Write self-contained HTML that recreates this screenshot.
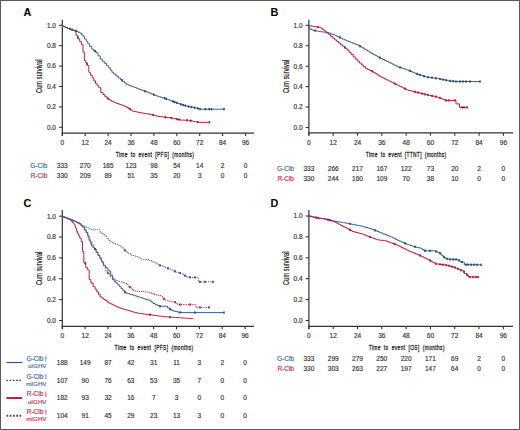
<!DOCTYPE html>
<html><head><meta charset="utf-8"><title>Kaplan-Meier curves</title>
<style>
html,body{margin:0;padding:0;background:#fff;}
body{width:520px;height:430px;position:relative;overflow:hidden;font-family:"Liberation Sans", sans-serif;}
.frame{position:absolute;left:0;top:0;width:518px;height:428px;border:1px solid #5a5a5a;pointer-events:none;}
</style></head><body>
<svg width="520" height="430" viewBox="0 0 520 430" style="display:block;position:absolute;left:0;top:0" font-family='"Liberation Sans", sans-serif'>
<rect x="0" y="0" width="520" height="430" fill="#fff"/>
<text x="23.60" y="16.40" font-size="10.8" text-anchor="start" fill="#000" font-weight="bold">A</text>
<line x1="62.30" y1="19.70" x2="62.30" y2="135.70" stroke="#333333" stroke-width="1.2"/>
<line x1="61.70" y1="133.10" x2="254.00" y2="133.10" stroke="#333333" stroke-width="1.3"/>
<line x1="59.10" y1="127.30" x2="62.30" y2="127.30" stroke="#333333" stroke-width="1.1"/>
<text x="56.00" y="129.65" font-size="6.5" text-anchor="end" fill="#3a3a3a" font-weight="normal" stroke="#3a3a3a" stroke-width="0.18">0.0</text>
<line x1="59.10" y1="106.90" x2="62.30" y2="106.90" stroke="#333333" stroke-width="1.1"/>
<text x="56.00" y="109.25" font-size="6.5" text-anchor="end" fill="#3a3a3a" font-weight="normal" stroke="#3a3a3a" stroke-width="0.18">0.2</text>
<line x1="59.10" y1="86.50" x2="62.30" y2="86.50" stroke="#333333" stroke-width="1.1"/>
<text x="56.00" y="88.85" font-size="6.5" text-anchor="end" fill="#3a3a3a" font-weight="normal" stroke="#3a3a3a" stroke-width="0.18">0.4</text>
<line x1="59.10" y1="66.10" x2="62.30" y2="66.10" stroke="#333333" stroke-width="1.1"/>
<text x="56.00" y="68.45" font-size="6.5" text-anchor="end" fill="#3a3a3a" font-weight="normal" stroke="#3a3a3a" stroke-width="0.18">0.6</text>
<line x1="59.10" y1="45.70" x2="62.30" y2="45.70" stroke="#333333" stroke-width="1.1"/>
<text x="56.00" y="48.05" font-size="6.5" text-anchor="end" fill="#3a3a3a" font-weight="normal" stroke="#3a3a3a" stroke-width="0.18">0.8</text>
<line x1="59.10" y1="25.30" x2="62.30" y2="25.30" stroke="#333333" stroke-width="1.1"/>
<text x="56.00" y="27.65" font-size="6.5" text-anchor="end" fill="#3a3a3a" font-weight="normal" stroke="#3a3a3a" stroke-width="0.18">1.0</text>
<line x1="62.30" y1="133.10" x2="62.30" y2="135.90" stroke="#333333" stroke-width="1.1"/>
<text x="62.30" y="145.00" font-size="6.5" text-anchor="middle" fill="#3a3a3a" font-weight="normal" stroke="#3a3a3a" stroke-width="0.18">0</text>
<line x1="85.20" y1="133.10" x2="85.20" y2="135.90" stroke="#333333" stroke-width="1.1"/>
<text x="85.20" y="145.00" font-size="6.5" text-anchor="middle" fill="#3a3a3a" font-weight="normal" stroke="#3a3a3a" stroke-width="0.18">12</text>
<line x1="108.10" y1="133.10" x2="108.10" y2="135.90" stroke="#333333" stroke-width="1.1"/>
<text x="108.10" y="145.00" font-size="6.5" text-anchor="middle" fill="#3a3a3a" font-weight="normal" stroke="#3a3a3a" stroke-width="0.18">24</text>
<line x1="131.00" y1="133.10" x2="131.00" y2="135.90" stroke="#333333" stroke-width="1.1"/>
<text x="131.00" y="145.00" font-size="6.5" text-anchor="middle" fill="#3a3a3a" font-weight="normal" stroke="#3a3a3a" stroke-width="0.18">36</text>
<line x1="153.90" y1="133.10" x2="153.90" y2="135.90" stroke="#333333" stroke-width="1.1"/>
<text x="153.90" y="145.00" font-size="6.5" text-anchor="middle" fill="#3a3a3a" font-weight="normal" stroke="#3a3a3a" stroke-width="0.18">48</text>
<line x1="176.80" y1="133.10" x2="176.80" y2="135.90" stroke="#333333" stroke-width="1.1"/>
<text x="176.80" y="145.00" font-size="6.5" text-anchor="middle" fill="#3a3a3a" font-weight="normal" stroke="#3a3a3a" stroke-width="0.18">60</text>
<line x1="199.70" y1="133.10" x2="199.70" y2="135.90" stroke="#333333" stroke-width="1.1"/>
<text x="199.70" y="145.00" font-size="6.5" text-anchor="middle" fill="#3a3a3a" font-weight="normal" stroke="#3a3a3a" stroke-width="0.18">72</text>
<line x1="222.60" y1="133.10" x2="222.60" y2="135.90" stroke="#333333" stroke-width="1.1"/>
<text x="222.60" y="145.00" font-size="6.5" text-anchor="middle" fill="#3a3a3a" font-weight="normal" stroke="#3a3a3a" stroke-width="0.18">84</text>
<line x1="245.50" y1="133.10" x2="245.50" y2="135.90" stroke="#333333" stroke-width="1.1"/>
<text x="245.50" y="145.00" font-size="6.5" text-anchor="middle" fill="#3a3a3a" font-weight="normal" stroke="#3a3a3a" stroke-width="0.18">96</text>
<text transform="translate(154.80,156.50) scale(0.6,1)" x="0.33" y="0" font-size="8.0" text-anchor="middle" letter-spacing="0.666" word-spacing="2.167" fill="#222" stroke="#222" stroke-width="0.3">Time to event [PFS] (months)</text>
<text transform="translate(42.30,76.30) rotate(-90) scale(0.66,1)" x="0.09" y="0" font-size="8.4" text-anchor="middle" letter-spacing="0.188" fill="#222" stroke="#222" stroke-width="0.2">Cum survival</text>
<text x="47.30" y="167.50" font-size="6.5" text-anchor="end" fill="#3d6ea3" font-weight="normal" stroke="#3d6ea3" stroke-width="0.18">G-Clb</text>
<text x="62.30" y="167.50" font-size="6.5" text-anchor="middle" fill="#3a3a3a" font-weight="normal" stroke="#3a3a3a" stroke-width="0.18">333</text>
<text x="85.20" y="167.50" font-size="6.5" text-anchor="middle" fill="#3a3a3a" font-weight="normal" stroke="#3a3a3a" stroke-width="0.18">270</text>
<text x="108.10" y="167.50" font-size="6.5" text-anchor="middle" fill="#3a3a3a" font-weight="normal" stroke="#3a3a3a" stroke-width="0.18">185</text>
<text x="131.00" y="167.50" font-size="6.5" text-anchor="middle" fill="#3a3a3a" font-weight="normal" stroke="#3a3a3a" stroke-width="0.18">123</text>
<text x="153.90" y="167.50" font-size="6.5" text-anchor="middle" fill="#3a3a3a" font-weight="normal" stroke="#3a3a3a" stroke-width="0.18">98</text>
<text x="176.80" y="167.50" font-size="6.5" text-anchor="middle" fill="#3a3a3a" font-weight="normal" stroke="#3a3a3a" stroke-width="0.18">54</text>
<text x="199.70" y="167.50" font-size="6.5" text-anchor="middle" fill="#3a3a3a" font-weight="normal" stroke="#3a3a3a" stroke-width="0.18">14</text>
<text x="222.60" y="167.50" font-size="6.5" text-anchor="middle" fill="#3a3a3a" font-weight="normal" stroke="#3a3a3a" stroke-width="0.18">2</text>
<text x="245.50" y="167.50" font-size="6.5" text-anchor="middle" fill="#3a3a3a" font-weight="normal" stroke="#3a3a3a" stroke-width="0.18">0</text>
<text x="47.30" y="177.50" font-size="6.5" text-anchor="end" fill="#c8304a" font-weight="normal" stroke="#c8304a" stroke-width="0.18">R-Clb</text>
<text x="62.30" y="177.50" font-size="6.5" text-anchor="middle" fill="#3a3a3a" font-weight="normal" stroke="#3a3a3a" stroke-width="0.18">330</text>
<text x="85.20" y="177.50" font-size="6.5" text-anchor="middle" fill="#3a3a3a" font-weight="normal" stroke="#3a3a3a" stroke-width="0.18">209</text>
<text x="108.10" y="177.50" font-size="6.5" text-anchor="middle" fill="#3a3a3a" font-weight="normal" stroke="#3a3a3a" stroke-width="0.18">89</text>
<text x="131.00" y="177.50" font-size="6.5" text-anchor="middle" fill="#3a3a3a" font-weight="normal" stroke="#3a3a3a" stroke-width="0.18">51</text>
<text x="153.90" y="177.50" font-size="6.5" text-anchor="middle" fill="#3a3a3a" font-weight="normal" stroke="#3a3a3a" stroke-width="0.18">35</text>
<text x="176.80" y="177.50" font-size="6.5" text-anchor="middle" fill="#3a3a3a" font-weight="normal" stroke="#3a3a3a" stroke-width="0.18">20</text>
<text x="199.70" y="177.50" font-size="6.5" text-anchor="middle" fill="#3a3a3a" font-weight="normal" stroke="#3a3a3a" stroke-width="0.18">3</text>
<text x="222.60" y="177.50" font-size="6.5" text-anchor="middle" fill="#3a3a3a" font-weight="normal" stroke="#3a3a3a" stroke-width="0.18">0</text>
<text x="245.50" y="177.50" font-size="6.5" text-anchor="middle" fill="#3a3a3a" font-weight="normal" stroke="#3a3a3a" stroke-width="0.18">0</text>
<text x="270.60" y="16.40" font-size="10.8" text-anchor="start" fill="#000" font-weight="bold">B</text>
<line x1="308.90" y1="19.70" x2="308.90" y2="135.50" stroke="#333333" stroke-width="1.2"/>
<line x1="308.30" y1="132.90" x2="513.00" y2="132.90" stroke="#333333" stroke-width="1.3"/>
<line x1="305.70" y1="127.50" x2="308.90" y2="127.50" stroke="#333333" stroke-width="1.1"/>
<text x="302.60" y="129.85" font-size="6.5" text-anchor="end" fill="#3a3a3a" font-weight="normal" stroke="#3a3a3a" stroke-width="0.18">0.0</text>
<line x1="305.70" y1="107.06" x2="308.90" y2="107.06" stroke="#333333" stroke-width="1.1"/>
<text x="302.60" y="109.41" font-size="6.5" text-anchor="end" fill="#3a3a3a" font-weight="normal" stroke="#3a3a3a" stroke-width="0.18">0.2</text>
<line x1="305.70" y1="86.62" x2="308.90" y2="86.62" stroke="#333333" stroke-width="1.1"/>
<text x="302.60" y="88.97" font-size="6.5" text-anchor="end" fill="#3a3a3a" font-weight="normal" stroke="#3a3a3a" stroke-width="0.18">0.4</text>
<line x1="305.70" y1="66.18" x2="308.90" y2="66.18" stroke="#333333" stroke-width="1.1"/>
<text x="302.60" y="68.53" font-size="6.5" text-anchor="end" fill="#3a3a3a" font-weight="normal" stroke="#3a3a3a" stroke-width="0.18">0.6</text>
<line x1="305.70" y1="45.74" x2="308.90" y2="45.74" stroke="#333333" stroke-width="1.1"/>
<text x="302.60" y="48.09" font-size="6.5" text-anchor="end" fill="#3a3a3a" font-weight="normal" stroke="#3a3a3a" stroke-width="0.18">0.8</text>
<line x1="305.70" y1="25.30" x2="308.90" y2="25.30" stroke="#333333" stroke-width="1.1"/>
<text x="302.60" y="27.65" font-size="6.5" text-anchor="end" fill="#3a3a3a" font-weight="normal" stroke="#3a3a3a" stroke-width="0.18">1.0</text>
<line x1="308.90" y1="132.90" x2="308.90" y2="135.70" stroke="#333333" stroke-width="1.1"/>
<text x="308.90" y="145.00" font-size="6.5" text-anchor="middle" fill="#3a3a3a" font-weight="normal" stroke="#3a3a3a" stroke-width="0.18">0</text>
<line x1="333.21" y1="132.90" x2="333.21" y2="135.70" stroke="#333333" stroke-width="1.1"/>
<text x="333.21" y="145.00" font-size="6.5" text-anchor="middle" fill="#3a3a3a" font-weight="normal" stroke="#3a3a3a" stroke-width="0.18">12</text>
<line x1="357.52" y1="132.90" x2="357.52" y2="135.70" stroke="#333333" stroke-width="1.1"/>
<text x="357.52" y="145.00" font-size="6.5" text-anchor="middle" fill="#3a3a3a" font-weight="normal" stroke="#3a3a3a" stroke-width="0.18">24</text>
<line x1="381.84" y1="132.90" x2="381.84" y2="135.70" stroke="#333333" stroke-width="1.1"/>
<text x="381.84" y="145.00" font-size="6.5" text-anchor="middle" fill="#3a3a3a" font-weight="normal" stroke="#3a3a3a" stroke-width="0.18">36</text>
<line x1="406.15" y1="132.90" x2="406.15" y2="135.70" stroke="#333333" stroke-width="1.1"/>
<text x="406.15" y="145.00" font-size="6.5" text-anchor="middle" fill="#3a3a3a" font-weight="normal" stroke="#3a3a3a" stroke-width="0.18">48</text>
<line x1="430.46" y1="132.90" x2="430.46" y2="135.70" stroke="#333333" stroke-width="1.1"/>
<text x="430.46" y="145.00" font-size="6.5" text-anchor="middle" fill="#3a3a3a" font-weight="normal" stroke="#3a3a3a" stroke-width="0.18">60</text>
<line x1="454.77" y1="132.90" x2="454.77" y2="135.70" stroke="#333333" stroke-width="1.1"/>
<text x="454.77" y="145.00" font-size="6.5" text-anchor="middle" fill="#3a3a3a" font-weight="normal" stroke="#3a3a3a" stroke-width="0.18">72</text>
<line x1="479.09" y1="132.90" x2="479.09" y2="135.70" stroke="#333333" stroke-width="1.1"/>
<text x="479.09" y="145.00" font-size="6.5" text-anchor="middle" fill="#3a3a3a" font-weight="normal" stroke="#3a3a3a" stroke-width="0.18">84</text>
<line x1="503.40" y1="132.90" x2="503.40" y2="135.70" stroke="#333333" stroke-width="1.1"/>
<text x="503.40" y="145.00" font-size="6.5" text-anchor="middle" fill="#3a3a3a" font-weight="normal" stroke="#3a3a3a" stroke-width="0.18">96</text>
<text transform="translate(406.00,156.50) scale(0.6,1)" x="0.29" y="0" font-size="8.0" text-anchor="middle" letter-spacing="0.587" word-spacing="2.167" fill="#222" stroke="#222" stroke-width="0.3">Time to event [TTNT] (months)</text>
<text transform="translate(289.00,76.40) rotate(-90) scale(0.66,1)" x="0.09" y="0" font-size="8.4" text-anchor="middle" letter-spacing="0.188" fill="#222" stroke="#222" stroke-width="0.2">Cum survival</text>
<text x="294.00" y="171.10" font-size="6.5" text-anchor="end" fill="#3d6ea3" font-weight="normal" stroke="#3d6ea3" stroke-width="0.18">G-Clb</text>
<text x="308.90" y="171.10" font-size="6.5" text-anchor="middle" fill="#3a3a3a" font-weight="normal" stroke="#3a3a3a" stroke-width="0.18">333</text>
<text x="333.21" y="171.10" font-size="6.5" text-anchor="middle" fill="#3a3a3a" font-weight="normal" stroke="#3a3a3a" stroke-width="0.18">266</text>
<text x="357.52" y="171.10" font-size="6.5" text-anchor="middle" fill="#3a3a3a" font-weight="normal" stroke="#3a3a3a" stroke-width="0.18">217</text>
<text x="381.84" y="171.10" font-size="6.5" text-anchor="middle" fill="#3a3a3a" font-weight="normal" stroke="#3a3a3a" stroke-width="0.18">167</text>
<text x="406.15" y="171.10" font-size="6.5" text-anchor="middle" fill="#3a3a3a" font-weight="normal" stroke="#3a3a3a" stroke-width="0.18">122</text>
<text x="430.46" y="171.10" font-size="6.5" text-anchor="middle" fill="#3a3a3a" font-weight="normal" stroke="#3a3a3a" stroke-width="0.18">73</text>
<text x="454.77" y="171.10" font-size="6.5" text-anchor="middle" fill="#3a3a3a" font-weight="normal" stroke="#3a3a3a" stroke-width="0.18">20</text>
<text x="479.09" y="171.10" font-size="6.5" text-anchor="middle" fill="#3a3a3a" font-weight="normal" stroke="#3a3a3a" stroke-width="0.18">2</text>
<text x="503.40" y="171.10" font-size="6.5" text-anchor="middle" fill="#3a3a3a" font-weight="normal" stroke="#3a3a3a" stroke-width="0.18">0</text>
<text x="294.00" y="181.20" font-size="6.5" text-anchor="end" fill="#c8304a" font-weight="normal" stroke="#c8304a" stroke-width="0.18">R-Clb</text>
<text x="308.90" y="181.20" font-size="6.5" text-anchor="middle" fill="#3a3a3a" font-weight="normal" stroke="#3a3a3a" stroke-width="0.18">330</text>
<text x="333.21" y="181.20" font-size="6.5" text-anchor="middle" fill="#3a3a3a" font-weight="normal" stroke="#3a3a3a" stroke-width="0.18">244</text>
<text x="357.52" y="181.20" font-size="6.5" text-anchor="middle" fill="#3a3a3a" font-weight="normal" stroke="#3a3a3a" stroke-width="0.18">160</text>
<text x="381.84" y="181.20" font-size="6.5" text-anchor="middle" fill="#3a3a3a" font-weight="normal" stroke="#3a3a3a" stroke-width="0.18">109</text>
<text x="406.15" y="181.20" font-size="6.5" text-anchor="middle" fill="#3a3a3a" font-weight="normal" stroke="#3a3a3a" stroke-width="0.18">70</text>
<text x="430.46" y="181.20" font-size="6.5" text-anchor="middle" fill="#3a3a3a" font-weight="normal" stroke="#3a3a3a" stroke-width="0.18">38</text>
<text x="454.77" y="181.20" font-size="6.5" text-anchor="middle" fill="#3a3a3a" font-weight="normal" stroke="#3a3a3a" stroke-width="0.18">10</text>
<text x="479.09" y="181.20" font-size="6.5" text-anchor="middle" fill="#3a3a3a" font-weight="normal" stroke="#3a3a3a" stroke-width="0.18">0</text>
<text x="503.40" y="181.20" font-size="6.5" text-anchor="middle" fill="#3a3a3a" font-weight="normal" stroke="#3a3a3a" stroke-width="0.18">0</text>
<text x="23.40" y="207.20" font-size="10.8" text-anchor="start" fill="#000" font-weight="bold">C</text>
<line x1="62.30" y1="210.00" x2="62.30" y2="329.00" stroke="#333333" stroke-width="1.2"/>
<line x1="61.70" y1="326.40" x2="254.00" y2="326.40" stroke="#333333" stroke-width="1.3"/>
<line x1="59.10" y1="320.50" x2="62.30" y2="320.50" stroke="#333333" stroke-width="1.1"/>
<text x="56.00" y="322.85" font-size="6.5" text-anchor="end" fill="#3a3a3a" font-weight="normal" stroke="#3a3a3a" stroke-width="0.18">0.0</text>
<line x1="59.10" y1="299.64" x2="62.30" y2="299.64" stroke="#333333" stroke-width="1.1"/>
<text x="56.00" y="301.99" font-size="6.5" text-anchor="end" fill="#3a3a3a" font-weight="normal" stroke="#3a3a3a" stroke-width="0.18">0.2</text>
<line x1="59.10" y1="278.78" x2="62.30" y2="278.78" stroke="#333333" stroke-width="1.1"/>
<text x="56.00" y="281.13" font-size="6.5" text-anchor="end" fill="#3a3a3a" font-weight="normal" stroke="#3a3a3a" stroke-width="0.18">0.4</text>
<line x1="59.10" y1="257.92" x2="62.30" y2="257.92" stroke="#333333" stroke-width="1.1"/>
<text x="56.00" y="260.27" font-size="6.5" text-anchor="end" fill="#3a3a3a" font-weight="normal" stroke="#3a3a3a" stroke-width="0.18">0.6</text>
<line x1="59.10" y1="237.06" x2="62.30" y2="237.06" stroke="#333333" stroke-width="1.1"/>
<text x="56.00" y="239.41" font-size="6.5" text-anchor="end" fill="#3a3a3a" font-weight="normal" stroke="#3a3a3a" stroke-width="0.18">0.8</text>
<line x1="59.10" y1="216.20" x2="62.30" y2="216.20" stroke="#333333" stroke-width="1.1"/>
<text x="56.00" y="218.55" font-size="6.5" text-anchor="end" fill="#3a3a3a" font-weight="normal" stroke="#3a3a3a" stroke-width="0.18">1.0</text>
<line x1="62.30" y1="326.40" x2="62.30" y2="329.20" stroke="#333333" stroke-width="1.1"/>
<text x="62.30" y="338.40" font-size="6.5" text-anchor="middle" fill="#3a3a3a" font-weight="normal" stroke="#3a3a3a" stroke-width="0.18">0</text>
<line x1="85.15" y1="326.40" x2="85.15" y2="329.20" stroke="#333333" stroke-width="1.1"/>
<text x="85.15" y="338.40" font-size="6.5" text-anchor="middle" fill="#3a3a3a" font-weight="normal" stroke="#3a3a3a" stroke-width="0.18">12</text>
<line x1="108.00" y1="326.40" x2="108.00" y2="329.20" stroke="#333333" stroke-width="1.1"/>
<text x="108.00" y="338.40" font-size="6.5" text-anchor="middle" fill="#3a3a3a" font-weight="normal" stroke="#3a3a3a" stroke-width="0.18">24</text>
<line x1="130.85" y1="326.40" x2="130.85" y2="329.20" stroke="#333333" stroke-width="1.1"/>
<text x="130.85" y="338.40" font-size="6.5" text-anchor="middle" fill="#3a3a3a" font-weight="normal" stroke="#3a3a3a" stroke-width="0.18">36</text>
<line x1="153.70" y1="326.40" x2="153.70" y2="329.20" stroke="#333333" stroke-width="1.1"/>
<text x="153.70" y="338.40" font-size="6.5" text-anchor="middle" fill="#3a3a3a" font-weight="normal" stroke="#3a3a3a" stroke-width="0.18">48</text>
<line x1="176.55" y1="326.40" x2="176.55" y2="329.20" stroke="#333333" stroke-width="1.1"/>
<text x="176.55" y="338.40" font-size="6.5" text-anchor="middle" fill="#3a3a3a" font-weight="normal" stroke="#3a3a3a" stroke-width="0.18">60</text>
<line x1="199.40" y1="326.40" x2="199.40" y2="329.20" stroke="#333333" stroke-width="1.1"/>
<text x="199.40" y="338.40" font-size="6.5" text-anchor="middle" fill="#3a3a3a" font-weight="normal" stroke="#3a3a3a" stroke-width="0.18">72</text>
<line x1="222.25" y1="326.40" x2="222.25" y2="329.20" stroke="#333333" stroke-width="1.1"/>
<text x="222.25" y="338.40" font-size="6.5" text-anchor="middle" fill="#3a3a3a" font-weight="normal" stroke="#3a3a3a" stroke-width="0.18">84</text>
<line x1="245.10" y1="326.40" x2="245.10" y2="329.20" stroke="#333333" stroke-width="1.1"/>
<text x="245.10" y="338.40" font-size="6.5" text-anchor="middle" fill="#3a3a3a" font-weight="normal" stroke="#3a3a3a" stroke-width="0.18">96</text>
<text transform="translate(153.90,350.00) scale(0.6,1)" x="0.34" y="0" font-size="8.0" text-anchor="middle" letter-spacing="0.685" word-spacing="2.167" fill="#222" stroke="#222" stroke-width="0.3">Time to event [PFS] (months)</text>
<text transform="translate(42.10,268.35) rotate(-90) scale(0.66,1)" x="0.09" y="0" font-size="8.4" text-anchor="middle" letter-spacing="0.188" fill="#222" stroke="#222" stroke-width="0.2">Cum survival</text>
<text x="62.30" y="365.00" font-size="6.5" text-anchor="middle" fill="#3a3a3a" font-weight="normal" stroke="#3a3a3a" stroke-width="0.18">188</text>
<text x="85.15" y="365.00" font-size="6.5" text-anchor="middle" fill="#3a3a3a" font-weight="normal" stroke="#3a3a3a" stroke-width="0.18">149</text>
<text x="108.00" y="365.00" font-size="6.5" text-anchor="middle" fill="#3a3a3a" font-weight="normal" stroke="#3a3a3a" stroke-width="0.18">87</text>
<text x="130.85" y="365.00" font-size="6.5" text-anchor="middle" fill="#3a3a3a" font-weight="normal" stroke="#3a3a3a" stroke-width="0.18">42</text>
<text x="153.70" y="365.00" font-size="6.5" text-anchor="middle" fill="#3a3a3a" font-weight="normal" stroke="#3a3a3a" stroke-width="0.18">31</text>
<text x="176.55" y="365.00" font-size="6.5" text-anchor="middle" fill="#3a3a3a" font-weight="normal" stroke="#3a3a3a" stroke-width="0.18">11</text>
<text x="199.40" y="365.00" font-size="6.5" text-anchor="middle" fill="#3a3a3a" font-weight="normal" stroke="#3a3a3a" stroke-width="0.18">3</text>
<text x="222.25" y="365.00" font-size="6.5" text-anchor="middle" fill="#3a3a3a" font-weight="normal" stroke="#3a3a3a" stroke-width="0.18">2</text>
<text x="245.10" y="365.00" font-size="6.5" text-anchor="middle" fill="#3a3a3a" font-weight="normal" stroke="#3a3a3a" stroke-width="0.18">0</text>
<text x="62.30" y="382.60" font-size="6.5" text-anchor="middle" fill="#3a3a3a" font-weight="normal" stroke="#3a3a3a" stroke-width="0.18">107</text>
<text x="85.15" y="382.60" font-size="6.5" text-anchor="middle" fill="#3a3a3a" font-weight="normal" stroke="#3a3a3a" stroke-width="0.18">90</text>
<text x="108.00" y="382.60" font-size="6.5" text-anchor="middle" fill="#3a3a3a" font-weight="normal" stroke="#3a3a3a" stroke-width="0.18">76</text>
<text x="130.85" y="382.60" font-size="6.5" text-anchor="middle" fill="#3a3a3a" font-weight="normal" stroke="#3a3a3a" stroke-width="0.18">63</text>
<text x="153.70" y="382.60" font-size="6.5" text-anchor="middle" fill="#3a3a3a" font-weight="normal" stroke="#3a3a3a" stroke-width="0.18">53</text>
<text x="176.55" y="382.60" font-size="6.5" text-anchor="middle" fill="#3a3a3a" font-weight="normal" stroke="#3a3a3a" stroke-width="0.18">35</text>
<text x="199.40" y="382.60" font-size="6.5" text-anchor="middle" fill="#3a3a3a" font-weight="normal" stroke="#3a3a3a" stroke-width="0.18">7</text>
<text x="222.25" y="382.60" font-size="6.5" text-anchor="middle" fill="#3a3a3a" font-weight="normal" stroke="#3a3a3a" stroke-width="0.18">0</text>
<text x="245.10" y="382.60" font-size="6.5" text-anchor="middle" fill="#3a3a3a" font-weight="normal" stroke="#3a3a3a" stroke-width="0.18">0</text>
<text x="62.30" y="400.30" font-size="6.5" text-anchor="middle" fill="#3a3a3a" font-weight="normal" stroke="#3a3a3a" stroke-width="0.18">182</text>
<text x="85.15" y="400.30" font-size="6.5" text-anchor="middle" fill="#3a3a3a" font-weight="normal" stroke="#3a3a3a" stroke-width="0.18">93</text>
<text x="108.00" y="400.30" font-size="6.5" text-anchor="middle" fill="#3a3a3a" font-weight="normal" stroke="#3a3a3a" stroke-width="0.18">32</text>
<text x="130.85" y="400.30" font-size="6.5" text-anchor="middle" fill="#3a3a3a" font-weight="normal" stroke="#3a3a3a" stroke-width="0.18">16</text>
<text x="153.70" y="400.30" font-size="6.5" text-anchor="middle" fill="#3a3a3a" font-weight="normal" stroke="#3a3a3a" stroke-width="0.18">7</text>
<text x="176.55" y="400.30" font-size="6.5" text-anchor="middle" fill="#3a3a3a" font-weight="normal" stroke="#3a3a3a" stroke-width="0.18">3</text>
<text x="199.40" y="400.30" font-size="6.5" text-anchor="middle" fill="#3a3a3a" font-weight="normal" stroke="#3a3a3a" stroke-width="0.18">0</text>
<text x="222.25" y="400.30" font-size="6.5" text-anchor="middle" fill="#3a3a3a" font-weight="normal" stroke="#3a3a3a" stroke-width="0.18">0</text>
<text x="245.10" y="400.30" font-size="6.5" text-anchor="middle" fill="#3a3a3a" font-weight="normal" stroke="#3a3a3a" stroke-width="0.18">0</text>
<text x="62.30" y="418.00" font-size="6.5" text-anchor="middle" fill="#3a3a3a" font-weight="normal" stroke="#3a3a3a" stroke-width="0.18">104</text>
<text x="85.15" y="418.00" font-size="6.5" text-anchor="middle" fill="#3a3a3a" font-weight="normal" stroke="#3a3a3a" stroke-width="0.18">91</text>
<text x="108.00" y="418.00" font-size="6.5" text-anchor="middle" fill="#3a3a3a" font-weight="normal" stroke="#3a3a3a" stroke-width="0.18">45</text>
<text x="130.85" y="418.00" font-size="6.5" text-anchor="middle" fill="#3a3a3a" font-weight="normal" stroke="#3a3a3a" stroke-width="0.18">29</text>
<text x="153.70" y="418.00" font-size="6.5" text-anchor="middle" fill="#3a3a3a" font-weight="normal" stroke="#3a3a3a" stroke-width="0.18">23</text>
<text x="176.55" y="418.00" font-size="6.5" text-anchor="middle" fill="#3a3a3a" font-weight="normal" stroke="#3a3a3a" stroke-width="0.18">13</text>
<text x="199.40" y="418.00" font-size="6.5" text-anchor="middle" fill="#3a3a3a" font-weight="normal" stroke="#3a3a3a" stroke-width="0.18">3</text>
<text x="222.25" y="418.00" font-size="6.5" text-anchor="middle" fill="#3a3a3a" font-weight="normal" stroke="#3a3a3a" stroke-width="0.18">0</text>
<text x="245.10" y="418.00" font-size="6.5" text-anchor="middle" fill="#3a3a3a" font-weight="normal" stroke="#3a3a3a" stroke-width="0.18">0</text>
<text x="270.60" y="207.00" font-size="10.8" text-anchor="start" fill="#000" font-weight="bold">D</text>
<line x1="308.90" y1="210.00" x2="308.90" y2="329.00" stroke="#333333" stroke-width="1.2"/>
<line x1="308.30" y1="326.40" x2="513.00" y2="326.40" stroke="#333333" stroke-width="1.3"/>
<line x1="305.70" y1="320.50" x2="308.90" y2="320.50" stroke="#333333" stroke-width="1.1"/>
<text x="302.60" y="322.85" font-size="6.5" text-anchor="end" fill="#3a3a3a" font-weight="normal" stroke="#3a3a3a" stroke-width="0.18">0.0</text>
<line x1="305.70" y1="299.60" x2="308.90" y2="299.60" stroke="#333333" stroke-width="1.1"/>
<text x="302.60" y="301.95" font-size="6.5" text-anchor="end" fill="#3a3a3a" font-weight="normal" stroke="#3a3a3a" stroke-width="0.18">0.2</text>
<line x1="305.70" y1="278.70" x2="308.90" y2="278.70" stroke="#333333" stroke-width="1.1"/>
<text x="302.60" y="281.05" font-size="6.5" text-anchor="end" fill="#3a3a3a" font-weight="normal" stroke="#3a3a3a" stroke-width="0.18">0.4</text>
<line x1="305.70" y1="257.80" x2="308.90" y2="257.80" stroke="#333333" stroke-width="1.1"/>
<text x="302.60" y="260.15" font-size="6.5" text-anchor="end" fill="#3a3a3a" font-weight="normal" stroke="#3a3a3a" stroke-width="0.18">0.6</text>
<line x1="305.70" y1="236.90" x2="308.90" y2="236.90" stroke="#333333" stroke-width="1.1"/>
<text x="302.60" y="239.25" font-size="6.5" text-anchor="end" fill="#3a3a3a" font-weight="normal" stroke="#3a3a3a" stroke-width="0.18">0.8</text>
<line x1="305.70" y1="216.00" x2="308.90" y2="216.00" stroke="#333333" stroke-width="1.1"/>
<text x="302.60" y="218.35" font-size="6.5" text-anchor="end" fill="#3a3a3a" font-weight="normal" stroke="#3a3a3a" stroke-width="0.18">1.0</text>
<line x1="308.90" y1="326.40" x2="308.90" y2="329.20" stroke="#333333" stroke-width="1.1"/>
<text x="308.90" y="338.40" font-size="6.5" text-anchor="middle" fill="#3a3a3a" font-weight="normal" stroke="#3a3a3a" stroke-width="0.18">0</text>
<line x1="333.20" y1="326.40" x2="333.20" y2="329.20" stroke="#333333" stroke-width="1.1"/>
<text x="333.20" y="338.40" font-size="6.5" text-anchor="middle" fill="#3a3a3a" font-weight="normal" stroke="#3a3a3a" stroke-width="0.18">12</text>
<line x1="357.50" y1="326.40" x2="357.50" y2="329.20" stroke="#333333" stroke-width="1.1"/>
<text x="357.50" y="338.40" font-size="6.5" text-anchor="middle" fill="#3a3a3a" font-weight="normal" stroke="#3a3a3a" stroke-width="0.18">24</text>
<line x1="381.80" y1="326.40" x2="381.80" y2="329.20" stroke="#333333" stroke-width="1.1"/>
<text x="381.80" y="338.40" font-size="6.5" text-anchor="middle" fill="#3a3a3a" font-weight="normal" stroke="#3a3a3a" stroke-width="0.18">36</text>
<line x1="406.10" y1="326.40" x2="406.10" y2="329.20" stroke="#333333" stroke-width="1.1"/>
<text x="406.10" y="338.40" font-size="6.5" text-anchor="middle" fill="#3a3a3a" font-weight="normal" stroke="#3a3a3a" stroke-width="0.18">48</text>
<line x1="430.40" y1="326.40" x2="430.40" y2="329.20" stroke="#333333" stroke-width="1.1"/>
<text x="430.40" y="338.40" font-size="6.5" text-anchor="middle" fill="#3a3a3a" font-weight="normal" stroke="#3a3a3a" stroke-width="0.18">60</text>
<line x1="454.70" y1="326.40" x2="454.70" y2="329.20" stroke="#333333" stroke-width="1.1"/>
<text x="454.70" y="338.40" font-size="6.5" text-anchor="middle" fill="#3a3a3a" font-weight="normal" stroke="#3a3a3a" stroke-width="0.18">72</text>
<line x1="479.00" y1="326.40" x2="479.00" y2="329.20" stroke="#333333" stroke-width="1.1"/>
<text x="479.00" y="338.40" font-size="6.5" text-anchor="middle" fill="#3a3a3a" font-weight="normal" stroke="#3a3a3a" stroke-width="0.18">84</text>
<line x1="503.30" y1="326.40" x2="503.30" y2="329.20" stroke="#333333" stroke-width="1.1"/>
<text x="503.30" y="338.40" font-size="6.5" text-anchor="middle" fill="#3a3a3a" font-weight="normal" stroke="#3a3a3a" stroke-width="0.18">96</text>
<text transform="translate(406.60,349.90) scale(0.6,1)" x="0.34" y="0" font-size="8.0" text-anchor="middle" letter-spacing="0.685" word-spacing="2.167" fill="#222" stroke="#222" stroke-width="0.3">Time to event [OS] (months)</text>
<text transform="translate(289.00,268.25) rotate(-90) scale(0.66,1)" x="0.09" y="0" font-size="8.4" text-anchor="middle" letter-spacing="0.188" fill="#222" stroke="#222" stroke-width="0.2">Cum survival</text>
<text x="294.00" y="360.90" font-size="6.5" text-anchor="end" fill="#3d6ea3" font-weight="normal" stroke="#3d6ea3" stroke-width="0.18">G-Clb</text>
<text x="308.90" y="360.90" font-size="6.5" text-anchor="middle" fill="#3a3a3a" font-weight="normal" stroke="#3a3a3a" stroke-width="0.18">333</text>
<text x="333.20" y="360.90" font-size="6.5" text-anchor="middle" fill="#3a3a3a" font-weight="normal" stroke="#3a3a3a" stroke-width="0.18">299</text>
<text x="357.50" y="360.90" font-size="6.5" text-anchor="middle" fill="#3a3a3a" font-weight="normal" stroke="#3a3a3a" stroke-width="0.18">279</text>
<text x="381.80" y="360.90" font-size="6.5" text-anchor="middle" fill="#3a3a3a" font-weight="normal" stroke="#3a3a3a" stroke-width="0.18">250</text>
<text x="406.10" y="360.90" font-size="6.5" text-anchor="middle" fill="#3a3a3a" font-weight="normal" stroke="#3a3a3a" stroke-width="0.18">220</text>
<text x="430.40" y="360.90" font-size="6.5" text-anchor="middle" fill="#3a3a3a" font-weight="normal" stroke="#3a3a3a" stroke-width="0.18">171</text>
<text x="454.70" y="360.90" font-size="6.5" text-anchor="middle" fill="#3a3a3a" font-weight="normal" stroke="#3a3a3a" stroke-width="0.18">69</text>
<text x="479.00" y="360.90" font-size="6.5" text-anchor="middle" fill="#3a3a3a" font-weight="normal" stroke="#3a3a3a" stroke-width="0.18">2</text>
<text x="503.30" y="360.90" font-size="6.5" text-anchor="middle" fill="#3a3a3a" font-weight="normal" stroke="#3a3a3a" stroke-width="0.18">0</text>
<text x="294.00" y="370.90" font-size="6.5" text-anchor="end" fill="#c8304a" font-weight="normal" stroke="#c8304a" stroke-width="0.18">R-Clb</text>
<text x="308.90" y="370.90" font-size="6.5" text-anchor="middle" fill="#3a3a3a" font-weight="normal" stroke="#3a3a3a" stroke-width="0.18">330</text>
<text x="333.20" y="370.90" font-size="6.5" text-anchor="middle" fill="#3a3a3a" font-weight="normal" stroke="#3a3a3a" stroke-width="0.18">303</text>
<text x="357.50" y="370.90" font-size="6.5" text-anchor="middle" fill="#3a3a3a" font-weight="normal" stroke="#3a3a3a" stroke-width="0.18">263</text>
<text x="381.80" y="370.90" font-size="6.5" text-anchor="middle" fill="#3a3a3a" font-weight="normal" stroke="#3a3a3a" stroke-width="0.18">227</text>
<text x="406.10" y="370.90" font-size="6.5" text-anchor="middle" fill="#3a3a3a" font-weight="normal" stroke="#3a3a3a" stroke-width="0.18">197</text>
<text x="430.40" y="370.90" font-size="6.5" text-anchor="middle" fill="#3a3a3a" font-weight="normal" stroke="#3a3a3a" stroke-width="0.18">147</text>
<text x="454.70" y="370.90" font-size="6.5" text-anchor="middle" fill="#3a3a3a" font-weight="normal" stroke="#3a3a3a" stroke-width="0.18">64</text>
<text x="479.00" y="370.90" font-size="6.5" text-anchor="middle" fill="#3a3a3a" font-weight="normal" stroke="#3a3a3a" stroke-width="0.18">0</text>
<text x="503.30" y="370.90" font-size="6.5" text-anchor="middle" fill="#3a3a3a" font-weight="normal" stroke="#3a3a3a" stroke-width="0.18">0</text>
<polyline points="62.1,25.6 62.9,25.6 62.9,26.3 64.5,26.3 64.5,27.0 66.0,27.0 66.0,27.7 67.6,27.7 67.6,28.4 68.4,28.4 69.3,28.4 69.3,29.0 71.0,29.0 71.0,29.7 72.7,29.7 72.7,30.4 74.4,30.4 74.4,31.0 75.3,31.0 76.0,31.0 76.0,35.3 76.7,35.3 77.8,35.3 77.8,38.8 78.8,38.8 79.7,38.8 79.7,41.6 81.4,41.6 81.4,44.4 82.3,44.4 83.0,44.4 83.0,52.1 83.7,52.1 84.4,52.1 84.4,60.6 85.1,60.6 85.8,60.6 85.8,63.0 87.3,63.0 87.3,65.5 88.0,65.5 88.8,65.5 88.8,72.3 89.6,72.3 90.4,72.3 90.4,75.1 92.2,75.1 92.2,77.9 93.0,77.9 93.8,77.9 93.8,80.8 95.5,80.8 95.5,83.6 96.3,83.6 97.1,83.6 97.1,85.7 98.7,85.7 98.7,87.7 99.5,87.7 100.8,87.7 100.8,92.6 102.0,92.6 103.0,92.6 103.0,94.5 104.8,94.5 104.8,96.4 106.8,96.4 106.8,98.3 107.7,98.3 108.5,98.3 108.5,99.4 110.2,99.4 110.2,100.4 111.8,100.4 111.8,101.5 112.6,101.5 113.4,101.5 113.4,102.1 115.0,102.1 115.0,102.8 116.7,102.8 116.7,103.4 118.3,103.4 118.3,104.0 119.1,104.0 119.9,104.0 119.9,104.6 121.5,104.6 121.5,105.2 123.2,105.2 123.2,105.8 124.8,105.8 124.8,106.4 125.6,106.4 126.6,106.4 126.6,107.6 128.6,107.6 128.6,108.8 130.7,108.8 130.7,110.1 132.7,110.1 132.7,111.3 133.7,111.3 134.5,111.3 134.5,111.6 136.2,111.6 136.2,111.9 137.8,111.9 137.8,112.3 139.4,112.3 139.4,112.6 141.1,112.6 141.1,112.9 141.9,112.9 142.9,112.9 142.9,113.2 144.9,113.2 144.9,113.6 147.0,113.6 147.0,113.9 149.0,113.9 149.0,114.2 150.0,114.2 151.0,114.2 151.0,114.7 152.9,114.7 152.9,115.2 154.8,115.2 154.8,115.7 156.7,115.7 156.7,116.2 157.7,116.2 158.7,116.2 158.7,116.5 160.6,116.5 160.6,116.7 162.5,116.7 162.5,117.0 164.4,117.0 164.4,117.2 165.4,117.2 166.4,117.2 166.4,117.5 168.3,117.5 168.3,117.7 170.2,117.7 170.2,118.0 172.1,118.0 172.1,118.2 173.1,118.2 174.1,118.2 174.1,118.7 176.0,118.7 176.0,119.1 177.9,119.1 177.9,119.5 179.8,119.5 179.8,120.0 180.8,120.0 181.8,120.0 181.8,120.1 183.7,120.1 183.7,120.2 185.6,120.2 185.6,120.2 187.5,120.2 187.5,120.3 188.5,120.3 189.5,120.3 189.5,120.7 191.4,120.7 191.4,121.0 193.3,121.0 193.3,121.4 195.2,121.4 195.2,121.8 196.2,121.8 196.9,121.8 196.9,122.0 198.4,122.0 198.4,122.3 199.2,122.3 210.0,122.3" fill="none" stroke="#b5203f" stroke-width="1.0" stroke-linejoin="round"/>
<rect x="71.30" y="28.61" width="1.4" height="2.3" fill="#8e1c38"/>
<rect x="77.30" y="36.32" width="1.4" height="2.3" fill="#8e1c38"/>
<rect x="86.30" y="62.66" width="1.4" height="2.3" fill="#8e1c38"/>
<rect x="107.30" y="97.35" width="1.4" height="2.3" fill="#8e1c38"/>
<rect x="129.30" y="107.91" width="1.4" height="2.3" fill="#8e1c38"/>
<rect x="152.40" y="113.86" width="1.4" height="2.3" fill="#8e1c38"/>
<rect x="164.70" y="116.05" width="1.4" height="2.3" fill="#8e1c38"/>
<rect x="170.80" y="116.84" width="1.4" height="2.3" fill="#8e1c38"/>
<rect x="176.20" y="117.94" width="1.4" height="2.3" fill="#8e1c38"/>
<rect x="178.50" y="118.48" width="1.4" height="2.3" fill="#8e1c38"/>
<rect x="186.20" y="119.09" width="1.4" height="2.3" fill="#8e1c38"/>
<rect x="190.10" y="119.60" width="1.4" height="2.3" fill="#8e1c38"/>
<rect x="197.00" y="120.90" width="1.4" height="2.3" fill="#8e1c38"/>
<rect x="208.80" y="121.15" width="1.4" height="2.3" fill="#8e1c38"/>
<polyline points="62.1,25.6 62.9,25.6 62.9,26.3 64.5,26.3 64.5,27.0 66.0,27.0 66.0,27.7 67.6,27.7 67.6,28.4 68.4,28.4 69.3,28.4 69.3,28.9 71.0,28.9 71.0,29.4 72.7,29.4 72.7,30.0 74.4,30.0 74.4,30.5 75.3,30.5 76.2,30.5 76.2,31.4 78.1,31.4 78.1,32.3 80.0,32.3 80.0,33.2 80.9,33.2 81.6,33.2 81.6,34.9 83.1,34.9 83.1,36.6 83.8,36.6 84.6,36.6 84.6,39.0 86.2,39.0 86.2,41.3 87.8,41.3 87.8,43.7 88.6,43.7 89.6,43.7 89.6,46.5 91.8,46.5 91.8,49.3 92.8,49.3 93.8,49.3 93.8,51.0 96.0,51.0 96.0,52.8 97.0,52.8 98.0,52.8 98.0,55.9 100.2,55.9 100.2,59.0 101.2,59.0 102.2,59.0 102.2,61.2 104.3,61.2 104.3,63.3 106.5,63.3 106.5,65.5 107.5,65.5 108.4,65.5 108.4,67.8 110.2,67.8 110.2,70.0 111.9,70.0 111.9,72.3 112.8,72.3 113.6,72.3 113.6,73.8 115.3,73.8 115.3,75.2 117.0,75.2 117.0,76.7 118.7,76.7 118.7,78.2 119.5,78.2 120.5,78.2 120.5,79.8 122.4,79.8 122.4,81.3 124.3,81.3 124.3,82.9 126.2,82.9 126.2,84.4 127.2,84.4 128.0,84.4 128.0,85.0 129.6,85.0 129.6,85.7 131.3,85.7 131.3,86.3 132.9,86.3 132.9,86.9 133.7,86.9 134.5,86.9 134.5,87.5 136.2,87.5 136.2,88.2 137.8,88.2 137.8,88.8 139.4,88.8 139.4,89.5 141.1,89.5 141.1,90.1 141.9,90.1 142.9,90.1 142.9,90.8 144.9,90.8 144.9,91.6 147.0,91.6 147.0,92.3 149.0,92.3 149.0,93.1 150.0,93.1 151.0,93.1 151.0,93.9 152.9,93.9 152.9,94.7 154.8,94.7 154.8,95.4 156.7,95.4 156.7,96.2 157.7,96.2 158.7,96.2 158.7,96.8 160.6,96.8 160.6,97.3 162.5,97.3 162.5,97.9 164.4,97.9 164.4,98.5 165.4,98.5 166.4,98.5 166.4,99.2 168.3,99.2 168.3,100.0 170.2,100.0 170.2,100.8 172.1,100.8 172.1,101.5 173.1,101.5 174.1,101.5 174.1,102.2 176.0,102.2 176.0,102.9 177.9,102.9 177.9,103.6 179.8,103.6 179.8,104.3 180.8,104.3 181.8,104.3 181.8,104.8 183.7,104.8 183.7,105.4 185.6,105.4 185.6,106.0 187.5,106.0 187.5,106.5 188.5,106.5 189.5,106.5 189.5,106.9 191.4,106.9 191.4,107.2 193.3,107.2 193.3,107.6 195.2,107.6 195.2,108.0 196.2,108.0 197.0,108.0 197.0,108.4 198.5,108.4 198.5,108.8 200.0,108.8 200.0,109.2 200.8,109.2 224.6,109.2" fill="none" stroke="#30598a" stroke-width="0.95" stroke-linejoin="round"/>
<rect x="69.30" y="27.74" width="1.4" height="2.3" fill="#243e62"/>
<rect x="75.30" y="29.69" width="1.4" height="2.3" fill="#243e62"/>
<rect x="94.30" y="49.98" width="1.4" height="2.3" fill="#243e62"/>
<rect x="121.30" y="79.06" width="1.4" height="2.3" fill="#243e62"/>
<rect x="144.30" y="90.10" width="1.4" height="2.3" fill="#243e62"/>
<rect x="153.10" y="93.48" width="1.4" height="2.3" fill="#243e62"/>
<rect x="163.90" y="97.11" width="1.4" height="2.3" fill="#243e62"/>
<rect x="165.50" y="97.66" width="1.4" height="2.3" fill="#243e62"/>
<rect x="172.40" y="100.35" width="1.4" height="2.3" fill="#243e62"/>
<rect x="173.90" y="100.90" width="1.4" height="2.3" fill="#243e62"/>
<rect x="176.20" y="101.73" width="1.4" height="2.3" fill="#243e62"/>
<rect x="180.10" y="103.15" width="1.4" height="2.3" fill="#243e62"/>
<rect x="182.40" y="103.81" width="1.4" height="2.3" fill="#243e62"/>
<rect x="184.70" y="104.46" width="1.4" height="2.3" fill="#243e62"/>
<rect x="187.80" y="105.35" width="1.4" height="2.3" fill="#243e62"/>
<rect x="190.80" y="105.93" width="1.4" height="2.3" fill="#243e62"/>
<rect x="193.90" y="106.54" width="1.4" height="2.3" fill="#243e62"/>
<rect x="197.00" y="107.24" width="1.4" height="2.3" fill="#243e62"/>
<rect x="199.30" y="107.84" width="1.4" height="2.3" fill="#243e62"/>
<rect x="204.70" y="108.05" width="1.4" height="2.3" fill="#243e62"/>
<rect x="208.50" y="108.05" width="1.4" height="2.3" fill="#243e62"/>
<rect x="210.80" y="108.05" width="1.4" height="2.3" fill="#243e62"/>
<rect x="223.30" y="108.05" width="1.4" height="2.3" fill="#243e62"/>
<polyline points="308.8,25.5 309.7,25.5 309.7,25.8 311.5,25.8 311.5,26.2 313.3,26.2 313.3,26.5 314.2,26.5 315.2,26.5 315.2,26.8 317.3,26.8 317.3,27.1 319.4,27.1 319.4,27.4 320.4,27.4 321.2,27.4 321.2,28.5 322.7,28.5 322.7,29.7 324.2,29.7 324.2,30.8 325.0,30.8 325.8,30.8 325.8,32.1 327.3,32.1 327.3,33.3 328.8,33.3 328.8,34.6 329.6,34.6 330.6,34.6 330.6,36.4 332.7,36.4 332.7,38.2 334.8,38.2 334.8,40.0 335.8,40.0 336.8,40.0 336.8,41.5 338.7,41.5 338.7,43.1 340.6,43.1 340.6,44.7 342.5,44.7 342.5,46.2 343.5,46.2 344.3,46.2 344.3,47.5 345.8,47.5 345.8,48.7 347.3,48.7 347.3,50.0 348.1,50.0 349.1,50.0 349.1,52.3 351.1,52.3 351.1,54.6 353.2,54.6 353.2,56.9 354.2,56.9 355.2,56.9 355.2,59.0 357.3,59.0 357.3,61.0 359.4,61.0 359.4,63.1 360.4,63.1 361.4,63.1 361.4,64.9 363.4,64.9 363.4,66.7 365.5,66.7 365.5,68.5 366.5,68.5 367.5,68.5 367.5,69.5 369.4,69.5 369.4,70.4 371.3,70.4 371.3,71.3 373.2,71.3 373.2,72.3 374.2,72.3 375.2,72.3 375.2,73.6 377.1,73.6 377.1,74.9 379.0,74.9 379.0,76.2 380.0,76.2 380.9,76.2 380.9,77.1 382.8,77.1 382.8,78.0 384.6,78.0 384.6,79.0 386.4,79.0 386.4,79.9 388.3,79.9 388.3,80.8 389.2,80.8 390.1,80.8 390.1,81.7 392.0,81.7 392.0,82.6 393.9,82.6 393.9,83.6 395.7,83.6 395.7,84.5 397.6,84.5 397.6,85.4 398.5,85.4 399.4,85.4 399.4,86.3 401.3,86.3 401.3,87.2 403.1,87.2 403.1,88.2 404.9,88.2 404.9,89.1 406.8,89.1 406.8,90.0 407.7,90.0 408.6,90.0 408.6,90.5 410.5,90.5 410.5,90.9 412.4,90.9 412.4,91.4 414.2,91.4 414.2,91.8 416.1,91.8 416.1,92.3 417.0,92.3 417.9,92.3 417.9,92.8 419.8,92.8 419.8,93.2 421.6,93.2 421.6,93.7 423.4,93.7 423.4,94.1 425.3,94.1 425.3,94.6 426.2,94.6 427.2,94.6 427.2,95.0 429.1,95.0 429.1,95.4 431.0,95.4 431.0,95.8 432.9,95.8 432.9,96.2 434.8,96.2 434.8,96.6 436.7,96.6 436.7,97.0 437.7,97.0 438.5,97.0 438.5,97.7 440.1,97.7 440.1,98.4 441.8,98.4 441.8,99.0 443.4,99.0 443.4,99.7 445.0,99.7 445.0,100.4 445.8,100.4 455.5,100.4 456.0,100.4 456.0,103.9 456.5,103.9 459.5,103.9 459.5,107.4 467.8,107.4" fill="none" stroke="#b5203f" stroke-width="1.0" stroke-linejoin="round"/>
<rect x="317.30" y="25.90" width="1.4" height="2.3" fill="#8e1c38"/>
<rect x="344.30" y="46.29" width="1.4" height="2.3" fill="#8e1c38"/>
<rect x="371.30" y="70.06" width="1.4" height="2.3" fill="#8e1c38"/>
<rect x="394.30" y="82.52" width="1.4" height="2.3" fill="#8e1c38"/>
<rect x="404.30" y="87.50" width="1.4" height="2.3" fill="#8e1c38"/>
<rect x="414.30" y="90.66" width="1.4" height="2.3" fill="#8e1c38"/>
<rect x="417.30" y="91.40" width="1.4" height="2.3" fill="#8e1c38"/>
<rect x="421.30" y="92.40" width="1.4" height="2.3" fill="#8e1c38"/>
<rect x="424.30" y="93.15" width="1.4" height="2.3" fill="#8e1c38"/>
<rect x="427.30" y="93.83" width="1.4" height="2.3" fill="#8e1c38"/>
<rect x="431.30" y="94.66" width="1.4" height="2.3" fill="#8e1c38"/>
<rect x="435.30" y="95.50" width="1.4" height="2.3" fill="#8e1c38"/>
<rect x="439.30" y="96.82" width="1.4" height="2.3" fill="#8e1c38"/>
<rect x="445.30" y="99.25" width="1.4" height="2.3" fill="#8e1c38"/>
<rect x="448.30" y="99.25" width="1.4" height="2.3" fill="#8e1c38"/>
<rect x="454.30" y="99.25" width="1.4" height="2.3" fill="#8e1c38"/>
<rect x="461.30" y="106.25" width="1.4" height="2.3" fill="#8e1c38"/>
<rect x="463.30" y="106.25" width="1.4" height="2.3" fill="#8e1c38"/>
<rect x="466.30" y="106.25" width="1.4" height="2.3" fill="#8e1c38"/>
<polyline points="308.8,25.5 308.8,28.0 309.8,28.0 309.8,29.0 311.7,29.0 311.7,30.0 312.7,30.0 313.5,30.0 313.5,30.4 315.0,30.4 315.0,30.7 316.5,30.7 316.5,31.1 317.3,31.1 318.3,31.1 318.3,31.4 320.4,31.4 320.4,31.7 322.5,31.7 322.5,32.0 323.5,32.0 324.3,32.0 324.3,32.2 325.8,32.2 325.8,32.4 327.3,32.4 327.3,32.6 328.1,32.6 329.1,32.6 329.1,33.3 331.0,33.3 331.0,34.0 332.9,34.0 332.9,34.7 334.8,34.7 334.8,35.4 335.8,35.4 336.8,35.4 336.8,36.4 338.7,36.4 338.7,37.3 340.6,37.3 340.6,38.2 342.5,38.2 342.5,39.2 343.5,39.2 344.5,39.2 344.5,40.0 346.4,40.0 346.4,40.8 348.3,40.8 348.3,41.5 350.2,41.5 350.2,42.3 351.2,42.3 352.1,42.3 352.1,43.1 354.1,43.1 354.1,43.8 355.9,43.8 355.9,44.6 357.9,44.6 357.9,45.4 358.8,45.4 359.8,45.4 359.8,46.5 361.7,46.5 361.7,47.7 363.6,47.7 363.6,48.9 365.5,48.9 365.5,50.0 366.5,50.0 367.5,50.0 367.5,51.1 369.4,51.1 369.4,52.3 371.3,52.3 371.3,53.5 373.2,53.5 373.2,54.6 374.2,54.6 375.2,54.6 375.2,55.6 377.1,55.6 377.1,56.7 379.0,56.7 379.0,57.7 380.0,57.7 380.9,57.7 380.9,58.6 382.8,58.6 382.8,59.5 384.6,59.5 384.6,60.5 386.4,60.5 386.4,61.4 388.3,61.4 388.3,62.3 389.2,62.3 390.1,62.3 390.1,63.2 392.0,63.2 392.0,64.1 393.9,64.1 393.9,65.1 395.7,65.1 395.7,66.0 397.6,66.0 397.6,66.9 398.5,66.9 399.4,66.9 399.4,67.5 401.3,67.5 401.3,68.1 403.1,68.1 403.1,68.7 404.9,68.7 404.9,69.3 406.8,69.3 406.8,69.9 407.7,69.9 408.6,69.9 408.6,70.7 410.5,70.7 410.5,71.5 412.4,71.5 412.4,72.3 414.2,72.3 414.2,73.1 416.1,73.1 416.1,73.9 417.0,73.9 417.9,73.9 417.9,74.5 419.8,74.5 419.8,75.1 421.6,75.1 421.6,75.7 423.4,75.7 423.4,76.3 425.3,76.3 425.3,76.9 426.2,76.9 427.2,76.9 427.2,77.2 429.1,77.2 429.1,77.4 431.0,77.4 431.0,77.7 432.9,77.7 432.9,78.0 434.8,78.0 434.8,78.2 436.7,78.2 436.7,78.5 437.7,78.5 438.7,78.5 438.7,78.9 440.6,78.9 440.6,79.3 442.5,79.3 442.5,79.7 444.5,79.7 444.5,80.0 446.4,80.0 446.4,80.4 448.3,80.4 448.3,80.8 449.3,80.8 450.2,80.8 450.2,81.0 451.9,81.0 451.9,81.2 453.6,81.2 453.6,81.3 455.3,81.3 455.3,81.5 456.2,81.5 480.5,81.5" fill="none" stroke="#30598a" stroke-width="0.95" stroke-linejoin="round"/>
<rect x="314.30" y="29.40" width="1.4" height="2.3" fill="#243e62"/>
<rect x="339.30" y="36.32" width="1.4" height="2.3" fill="#243e62"/>
<rect x="359.30" y="44.97" width="1.4" height="2.3" fill="#243e62"/>
<rect x="379.30" y="56.55" width="1.4" height="2.3" fill="#243e62"/>
<rect x="399.30" y="66.24" width="1.4" height="2.3" fill="#243e62"/>
<rect x="409.30" y="69.74" width="1.4" height="2.3" fill="#243e62"/>
<rect x="416.30" y="72.75" width="1.4" height="2.3" fill="#243e62"/>
<rect x="419.30" y="73.73" width="1.4" height="2.3" fill="#243e62"/>
<rect x="423.30" y="75.03" width="1.4" height="2.3" fill="#243e62"/>
<rect x="427.30" y="76.00" width="1.4" height="2.3" fill="#243e62"/>
<rect x="431.30" y="76.56" width="1.4" height="2.3" fill="#243e62"/>
<rect x="435.30" y="77.11" width="1.4" height="2.3" fill="#243e62"/>
<rect x="439.30" y="77.81" width="1.4" height="2.3" fill="#243e62"/>
<rect x="442.30" y="78.40" width="1.4" height="2.3" fill="#243e62"/>
<rect x="445.30" y="79.00" width="1.4" height="2.3" fill="#243e62"/>
<rect x="449.30" y="79.72" width="1.4" height="2.3" fill="#243e62"/>
<rect x="452.30" y="80.03" width="1.4" height="2.3" fill="#243e62"/>
<rect x="455.30" y="80.33" width="1.4" height="2.3" fill="#243e62"/>
<rect x="459.30" y="80.35" width="1.4" height="2.3" fill="#243e62"/>
<rect x="462.30" y="80.35" width="1.4" height="2.3" fill="#243e62"/>
<rect x="465.30" y="80.35" width="1.4" height="2.3" fill="#243e62"/>
<rect x="469.30" y="80.35" width="1.4" height="2.3" fill="#243e62"/>
<rect x="479.30" y="80.35" width="1.4" height="2.3" fill="#243e62"/>
<polyline points="62.3,216.2 63.0,216.2 63.0,216.8 64.3,216.8 64.3,217.4 65.0,217.4 65.8,217.4 65.8,218.0 67.5,218.0 67.5,218.7 69.2,218.7 69.2,219.3 70.0,219.3 70.9,219.3 70.9,221.1 72.6,221.1 72.6,222.8 73.5,222.8 74.0,222.8 74.0,224.3 74.6,224.3 75.0,224.3 75.0,226.6 75.4,226.6 75.8,226.6 75.8,228.5 76.2,228.5 76.6,228.5 76.6,231.2 76.9,231.2 77.5,231.2 77.5,233.5 78.1,233.5 78.7,233.5 78.7,235.8 79.2,235.8 79.8,235.8 79.8,238.2 80.4,238.2 81.2,238.2 81.2,241.6 81.9,241.6 82.5,241.6 82.5,251.5 83.1,251.5 83.8,251.5 83.8,262.3 84.6,262.3 85.8,262.3 85.8,267.7 86.9,267.7 87.7,267.7 87.7,270.0 88.5,270.0 89.2,270.0 89.2,279.6 89.8,279.6 90.9,279.6 90.9,283.1 93.1,283.1 93.1,286.6 94.2,286.6 95.1,286.6 95.1,289.2 96.8,289.2 96.8,291.8 98.5,291.8 98.5,294.4 100.2,294.4 100.2,297.0 101.1,297.0 102.0,297.0 102.0,298.2 103.7,298.2 103.7,299.4 105.4,299.4 105.4,300.7 107.2,300.7 107.2,301.9 108.9,301.9 108.9,303.1 109.8,303.1 110.7,303.1 110.7,304.0 112.4,304.0 112.4,304.9 114.2,304.9 114.2,305.7 116.0,305.7 116.0,306.6 117.7,306.6 117.7,307.5 118.6,307.5 119.5,307.5 119.5,308.0 121.2,308.0 121.2,308.5 122.9,308.5 122.9,309.1 124.7,309.1 124.7,309.6 126.4,309.6 126.4,310.1 127.3,310.1 128.2,310.1 128.2,310.6 129.9,310.6 129.9,311.1 131.7,311.1 131.7,311.7 133.4,311.7 133.4,312.2 135.1,312.2 135.1,312.7 136.0,312.7 136.9,312.7 136.9,313.0 138.6,313.0 138.6,313.3 140.3,313.3 140.3,313.5 142.1,313.5 142.1,313.8 143.8,313.8 143.8,314.1 144.7,314.1 145.6,314.1 145.6,314.3 147.3,314.3 147.3,314.5 149.1,314.5 149.1,314.7 150.0,314.7 150.8,314.7 150.8,314.9 152.5,314.9 152.5,315.2 154.1,315.2 154.1,315.4 155.8,315.4 155.8,315.6 157.4,315.6 157.4,315.9 159.1,315.9 159.1,316.1 159.9,316.1 160.7,316.1 160.7,316.3 162.4,316.3 162.4,316.4 164.0,316.4 164.0,316.6 165.7,316.6 165.7,316.8 167.3,316.8 167.3,316.9 169.0,316.9 169.0,317.1 169.8,317.1 170.7,317.1 170.7,317.2 172.4,317.2 172.4,317.3 174.2,317.3 174.2,317.4 175.9,317.4 175.9,317.5 177.7,317.5 177.7,317.7 179.5,317.7 179.5,317.8 181.2,317.8 181.2,317.9 183.0,317.9 183.0,318.0 184.7,318.0 184.7,318.1 185.6,318.1 186.6,318.1 186.6,318.2 188.6,318.2 188.6,318.4 190.5,318.4 190.5,318.6 192.5,318.6 192.5,318.7 193.5,318.7" fill="none" stroke="#b5203f" stroke-width="1.0" stroke-linejoin="round"/>
<rect x="84.30" y="262.09" width="1.4" height="2.3" fill="#8e1c38"/>
<rect x="149.30" y="313.55" width="1.4" height="2.3" fill="#8e1c38"/>
<rect x="169.30" y="315.96" width="1.4" height="2.3" fill="#8e1c38"/>
<polyline points="62.3,216.2 63.0,216.2 63.0,216.8 64.3,216.8 64.3,217.4 65.0,217.4 65.8,217.4 65.8,218.0 67.5,218.0 67.5,218.7 69.2,218.7 69.2,219.3 70.0,219.3 71.0,219.3 71.0,220.0 73.0,220.0 73.0,220.8 75.0,220.8 75.0,221.5 76.0,221.5 77.0,221.5 77.0,222.5 79.0,222.5 79.0,223.5 80.0,223.5 80.8,223.5 80.8,225.1 82.2,225.1 82.2,226.6 83.0,226.6 84.2,226.6 84.2,230.5 85.4,230.5 86.2,230.5 86.2,232.8 86.9,232.8 88.1,232.8 88.1,237.7 89.2,237.7 90.2,237.7 90.2,241.3 92.0,241.3 92.0,245.0 93.0,245.0 94.0,245.0 94.0,248.5 96.0,248.5 96.0,252.0 97.0,252.0 98.0,252.0 98.0,255.5 100.0,255.5 100.0,259.0 101.0,259.0 101.8,259.0 101.8,262.0 103.2,262.0 103.2,265.0 104.0,265.0 105.2,265.0 105.2,270.9 106.4,270.9 107.3,270.9 107.3,272.9 109.0,272.9 109.0,275.0 110.7,275.0 110.7,277.0 111.6,277.0 112.5,277.0 112.5,278.2 114.2,278.2 114.2,279.3 115.9,279.3 115.9,280.5 116.8,280.5 117.7,280.5 117.7,281.0 119.4,281.0 119.4,281.5 121.2,281.5 121.2,282.1 122.9,282.1 122.9,282.6 124.6,282.6 124.6,283.1 125.5,283.1 126.4,283.1 126.4,284.7 128.1,284.7 128.1,286.2 129.8,286.2 129.8,287.8 131.6,287.8 131.6,289.3 133.3,289.3 133.3,290.9 134.2,290.9 135.1,290.9 135.1,291.0 136.8,291.0 136.8,291.2 138.6,291.2 138.6,291.4 140.3,291.4 140.3,291.5 142.1,291.5 142.1,291.6 143.8,291.6 143.8,291.8 144.7,291.8 145.6,291.8 145.6,292.0 147.3,292.0 147.3,292.2 149.1,292.2 149.1,292.4 150.0,292.4 150.8,292.4 150.8,293.1 152.5,293.1 152.5,293.8 154.2,293.8 154.2,294.5 155.0,294.5 155.8,294.5 155.8,294.9 157.5,294.9 157.5,295.3 159.1,295.3 159.1,295.7 160.8,295.7 160.8,296.1 161.6,296.1 162.4,296.1 162.4,298.0 164.0,298.0 164.0,299.8 164.8,299.8 165.7,299.8 165.7,300.3 167.4,300.3 167.4,300.9 169.1,300.9 169.1,301.4 170.0,301.4 170.8,301.4 170.8,301.6 172.5,301.6 172.5,301.8 174.2,301.8 174.2,302.0 175.0,302.0 175.9,302.0 175.9,303.3 177.6,303.3 177.6,304.6 178.5,304.6 195.5,304.6 196.0,304.6 196.0,307.4 196.5,307.4 209.7,307.4" fill="none" stroke="#b5203f" stroke-width="1.0" stroke-linejoin="round" stroke-dasharray="1.2,1.1"/>
<rect x="107.30" y="271.63" width="1.4" height="2.3" fill="#8e1c38"/>
<rect x="129.30" y="285.98" width="1.4" height="2.3" fill="#8e1c38"/>
<rect x="163.30" y="297.73" width="1.4" height="2.3" fill="#8e1c38"/>
<rect x="174.30" y="300.85" width="1.4" height="2.3" fill="#8e1c38"/>
<rect x="179.30" y="303.45" width="1.4" height="2.3" fill="#8e1c38"/>
<rect x="189.30" y="303.45" width="1.4" height="2.3" fill="#8e1c38"/>
<rect x="199.30" y="306.25" width="1.4" height="2.3" fill="#8e1c38"/>
<rect x="208.30" y="306.25" width="1.4" height="2.3" fill="#8e1c38"/>
<polyline points="62.3,216.2 63.0,216.2 63.0,216.8 64.3,216.8 64.3,217.4 65.0,217.4 65.8,217.4 65.8,218.0 67.5,218.0 67.5,218.7 69.2,218.7 69.2,219.3 70.0,219.3 71.0,219.3 71.0,220.0 73.0,220.0 73.0,220.8 75.0,220.8 75.0,221.5 76.0,221.5 77.0,221.5 77.0,222.7 79.0,222.7 79.0,223.9 80.0,223.9 81.0,223.9 81.0,225.7 82.8,225.7 82.8,227.4 83.8,227.4 84.6,227.4 84.6,229.7 85.4,229.7 86.2,229.7 86.2,232.8 86.9,232.8 87.7,232.8 87.7,235.8 88.5,235.8 89.0,235.8 89.0,240.5 89.6,240.5 90.3,240.5 90.3,243.3 91.6,243.3 91.6,246.2 92.3,246.2 93.1,246.2 93.1,247.8 94.6,247.8 94.6,249.5 95.4,249.5 96.2,249.5 96.2,252.4 98.0,252.4 98.0,255.3 99.7,255.3 99.7,258.2 100.5,258.2 101.5,258.2 101.5,261.9 103.6,261.9 103.6,265.7 104.6,265.7 105.5,265.7 105.5,267.4 107.2,267.4 107.2,269.2 108.9,269.2 108.9,270.9 109.8,270.9 110.7,270.9 110.7,275.2 112.4,275.2 112.4,279.6 113.3,279.6 114.2,279.6 114.2,281.4 115.9,281.4 115.9,283.1 117.7,283.1 117.7,284.9 119.4,284.9 119.4,286.6 120.3,286.6 121.2,286.6 121.2,288.6 122.9,288.6 122.9,290.7 124.6,290.7 124.6,292.7 125.5,292.7 126.4,292.7 126.4,293.2 128.1,293.2 128.1,293.7 129.8,293.7 129.8,294.3 131.6,294.3 131.6,294.8 133.3,294.8 133.3,295.3 134.2,295.3 135.1,295.3 135.1,295.9 136.8,295.9 136.8,296.5 138.6,296.5 138.6,297.1 140.3,297.1 140.3,297.6 142.1,297.6 142.1,298.2 143.8,298.2 143.8,298.8 144.7,298.8 145.6,298.8 145.6,299.3 147.3,299.3 147.3,299.8 149.1,299.8 149.1,300.3 150.0,300.3 151.0,300.3 151.0,301.9 153.0,301.9 153.0,303.5 154.0,303.5 155.0,303.5 155.0,304.4 157.0,304.4 157.0,305.3 159.0,305.3 159.0,306.2 160.0,306.2 166.5,306.2 167.5,306.2 167.5,307.9 169.6,307.9 169.6,309.6 170.6,309.6 171.7,309.6 171.7,310.5 173.9,310.5 173.9,311.3 175.0,311.3 176.0,311.3 176.0,311.7 178.0,311.7 178.0,312.2 180.0,312.2 180.0,312.6 181.0,312.6 224.1,312.6" fill="none" stroke="#30598a" stroke-width="0.95" stroke-linejoin="round"/>
<rect x="94.30" y="247.92" width="1.4" height="2.3" fill="#243e62"/>
<rect x="124.30" y="290.96" width="1.4" height="2.3" fill="#243e62"/>
<rect x="159.30" y="305.05" width="1.4" height="2.3" fill="#243e62"/>
<rect x="169.30" y="307.95" width="1.4" height="2.3" fill="#243e62"/>
<rect x="179.30" y="311.23" width="1.4" height="2.3" fill="#243e62"/>
<rect x="194.30" y="311.45" width="1.4" height="2.3" fill="#243e62"/>
<rect x="223.30" y="311.45" width="1.4" height="2.3" fill="#243e62"/>
<polyline points="62.3,216.2 63.0,216.2 63.0,216.8 64.3,216.8 64.3,217.4 65.0,217.4 65.8,217.4 65.8,218.0 67.5,218.0 67.5,218.7 69.2,218.7 69.2,219.3 70.0,219.3 71.0,219.3 71.0,220.0 73.0,220.0 73.0,220.8 75.0,220.8 75.0,221.5 76.0,221.5 77.0,221.5 77.0,222.8 79.2,222.8 79.2,224.0 81.2,224.0 81.2,225.3 82.3,225.3 83.1,225.3 83.1,225.9 84.6,225.9 84.6,226.6 85.4,226.6 86.2,226.6 86.2,227.2 87.7,227.2 87.7,227.8 88.5,227.8 89.7,227.8 89.7,229.3 90.8,229.3 91.8,229.3 91.8,229.5 93.6,229.5 93.6,229.7 94.6,229.7 95.4,229.7 95.4,229.7 97.1,229.7 97.1,229.6 98.8,229.6 98.8,229.6 99.6,229.6 100.1,229.6 100.1,232.3 100.6,232.3 101.4,232.3 101.4,233.4 103.2,233.4 103.2,234.6 104.0,234.6 105.0,234.6 105.0,236.6 107.0,236.6 107.0,238.7 108.0,238.7 109.0,238.7 109.0,240.5 111.0,240.5 111.0,242.3 112.0,242.3 113.1,242.3 113.1,243.2 115.4,243.2 115.4,244.0 116.5,244.0 117.4,244.0 117.4,245.0 119.2,245.0 119.2,246.0 121.1,246.0 121.1,247.0 122.0,247.0 123.0,247.0 123.0,249.1 124.8,249.1 124.8,251.2 125.8,251.2 126.7,251.2 126.7,252.3 128.5,252.3 128.5,253.5 129.4,253.5 130.7,253.5 130.7,255.2 132.0,255.2 132.8,255.2 132.8,255.6 134.2,255.6 134.2,256.0 135.0,256.0 135.8,256.0 135.8,256.5 137.2,256.5 137.2,257.0 138.0,257.0 139.2,257.0 139.2,258.3 140.4,258.3 141.4,258.3 141.4,259.2 142.5,259.2 143.4,259.2 143.4,259.3 145.2,259.3 145.2,259.4 147.1,259.4 147.1,259.5 148.0,259.5 149.3,259.5 149.3,260.4 150.6,260.4 151.4,260.4 151.4,261.4 153.0,261.4 153.0,262.3 153.8,262.3 154.8,262.3 154.8,263.1 156.7,263.1 156.7,264.0 157.7,264.0 158.8,264.0 158.8,265.4 160.0,265.4 161.1,265.4 161.1,265.9 163.1,265.9 163.1,266.5 164.2,266.5 165.1,266.5 165.1,267.4 167.0,267.4 167.0,268.3 168.9,268.3 168.9,269.2 169.8,269.2 170.8,269.2 170.8,270.0 172.8,270.0 172.8,270.8 174.7,270.8 174.7,271.6 175.7,271.6 176.7,271.6 176.7,272.3 178.6,272.3 178.6,272.9 180.6,272.9 180.6,273.6 181.6,273.6 182.6,273.6 182.6,274.8 184.6,274.8 184.6,276.0 186.5,276.0 186.5,277.2 187.5,277.2 188.3,277.2 188.3,277.2 190.0,277.2 190.0,277.3 191.6,277.3 191.6,277.4 193.3,277.4 193.3,277.4 194.9,277.4 194.9,277.4 196.6,277.4 196.6,277.5 197.4,277.5 198.4,277.5 198.4,281.9 199.4,281.9 213.2,281.9" fill="none" stroke="#30598a" stroke-width="0.95" stroke-linejoin="round" stroke-dasharray="1.2,1.1"/>
<rect x="124.30" y="249.17" width="1.4" height="2.3" fill="#243e62"/>
<rect x="159.30" y="264.25" width="1.4" height="2.3" fill="#243e62"/>
<rect x="167.30" y="267.18" width="1.4" height="2.3" fill="#243e62"/>
<rect x="174.30" y="270.17" width="1.4" height="2.3" fill="#243e62"/>
<rect x="179.30" y="271.91" width="1.4" height="2.3" fill="#243e62"/>
<rect x="184.30" y="274.52" width="1.4" height="2.3" fill="#243e62"/>
<rect x="189.30" y="276.13" width="1.4" height="2.3" fill="#243e62"/>
<rect x="194.30" y="276.28" width="1.4" height="2.3" fill="#243e62"/>
<rect x="199.30" y="280.75" width="1.4" height="2.3" fill="#243e62"/>
<rect x="204.30" y="280.75" width="1.4" height="2.3" fill="#243e62"/>
<rect x="212.30" y="280.75" width="1.4" height="2.3" fill="#243e62"/>
<polyline points="308.8,215.8 309.8,215.8 309.8,216.3 311.7,216.3 311.7,216.8 313.6,216.8 313.6,217.2 315.5,217.2 315.5,217.7 316.5,217.7 317.5,217.7 317.5,218.0 319.4,218.0 319.4,218.3 321.4,218.3 321.4,218.6 323.3,218.6 323.3,218.9 325.2,218.9 325.2,219.2 326.2,219.2 327.1,219.2 327.1,219.7 329.1,219.7 329.1,220.2 330.9,220.2 330.9,220.7 332.9,220.7 332.9,221.2 333.8,221.2 334.8,221.2 334.8,221.5 336.7,221.5 336.7,221.7 338.6,221.7 338.6,222.0 340.6,222.0 340.6,222.2 342.5,222.2 342.5,222.5 343.5,222.5 344.5,222.5 344.5,222.9 346.4,222.9 346.4,223.3 348.3,223.3 348.3,223.6 350.2,223.6 350.2,224.0 352.1,224.0 352.1,224.4 353.1,224.4 354.1,224.4 354.1,224.8 356.0,224.8 356.0,225.2 357.9,225.2 357.9,225.5 359.8,225.5 359.8,225.9 361.7,225.9 361.7,226.3 362.7,226.3 363.7,226.3 363.7,226.9 365.6,226.9 365.6,227.5 367.5,227.5 367.5,228.0 369.4,228.0 369.4,228.6 371.3,228.6 371.3,229.2 372.3,229.2 373.3,229.2 373.3,230.0 375.2,230.0 375.2,230.8 377.1,230.8 377.1,231.5 379.0,231.5 379.0,232.3 380.9,232.3 380.9,233.1 381.9,233.1 382.9,233.1 382.9,233.9 384.8,233.9 384.8,234.6 386.7,234.6 386.7,235.4 388.6,235.4 388.6,236.1 390.5,236.1 390.5,236.9 391.5,236.9 392.4,236.9 392.4,237.8 394.1,237.8 394.1,238.6 395.8,238.6 395.8,239.5 397.4,239.5 397.4,240.3 399.1,240.3 399.1,241.2 400.0,241.2 401.0,241.2 401.0,242.0 402.9,242.0 402.9,242.8 404.8,242.8 404.8,243.6 406.7,243.6 406.7,244.4 407.7,244.4 408.7,244.4 408.7,245.0 410.6,245.0 410.6,245.7 412.5,245.7 412.5,246.3 414.4,246.3 414.4,246.9 415.4,246.9 416.4,246.9 416.4,247.4 418.3,247.4 418.3,247.8 420.2,247.8 420.2,248.3 421.2,248.3 422.1,248.3 422.1,249.6 424.1,249.6 424.1,250.8 425.0,250.8 434.6,250.8 435.5,250.8 435.5,251.6 437.3,251.6 437.3,252.3 439.1,252.3 439.1,253.1 440.0,253.1 441.1,253.1 441.1,255.2 443.1,255.2 443.1,257.3 444.2,257.3 445.2,257.3 445.2,258.6 446.3,258.6 447.4,258.6 447.4,259.0 449.4,259.0 449.4,259.4 450.5,259.4 456.7,259.4 458.0,259.4 458.0,260.4 459.4,260.4 460.1,260.4 460.1,262.0 460.9,262.0 463.5,262.0 464.3,262.0 464.3,264.6 465.1,264.6 466.0,264.6 466.0,264.6 467.8,264.6 467.8,264.6 469.7,264.6 469.7,264.7 471.5,264.7 471.5,264.7 473.3,264.7 473.3,264.7 475.1,264.7 475.1,264.7 476.9,264.7 476.9,264.8 478.8,264.8 478.8,264.8 480.6,264.8 480.6,264.8 481.5,264.8" fill="none" stroke="#30598a" stroke-width="0.95" stroke-linejoin="round"/>
<rect x="315.30" y="216.43" width="1.4" height="2.3" fill="#243e62"/>
<rect x="329.30" y="219.05" width="1.4" height="2.3" fill="#243e62"/>
<rect x="349.30" y="222.64" width="1.4" height="2.3" fill="#243e62"/>
<rect x="374.30" y="229.15" width="1.4" height="2.3" fill="#243e62"/>
<rect x="404.30" y="242.13" width="1.4" height="2.3" fill="#243e62"/>
<rect x="414.30" y="245.62" width="1.4" height="2.3" fill="#243e62"/>
<rect x="424.30" y="249.65" width="1.4" height="2.3" fill="#243e62"/>
<rect x="429.30" y="249.65" width="1.4" height="2.3" fill="#243e62"/>
<rect x="435.30" y="250.25" width="1.4" height="2.3" fill="#243e62"/>
<rect x="439.30" y="251.95" width="1.4" height="2.3" fill="#243e62"/>
<rect x="443.30" y="255.95" width="1.4" height="2.3" fill="#243e62"/>
<rect x="446.30" y="257.58" width="1.4" height="2.3" fill="#243e62"/>
<rect x="449.30" y="258.15" width="1.4" height="2.3" fill="#243e62"/>
<rect x="452.30" y="258.25" width="1.4" height="2.3" fill="#243e62"/>
<rect x="455.30" y="258.25" width="1.4" height="2.3" fill="#243e62"/>
<rect x="458.30" y="259.10" width="1.4" height="2.3" fill="#243e62"/>
<rect x="461.30" y="260.85" width="1.4" height="2.3" fill="#243e62"/>
<rect x="465.30" y="263.46" width="1.4" height="2.3" fill="#243e62"/>
<rect x="467.30" y="263.49" width="1.4" height="2.3" fill="#243e62"/>
<rect x="470.30" y="263.52" width="1.4" height="2.3" fill="#243e62"/>
<rect x="473.30" y="263.56" width="1.4" height="2.3" fill="#243e62"/>
<rect x="476.30" y="263.60" width="1.4" height="2.3" fill="#243e62"/>
<rect x="480.30" y="263.64" width="1.4" height="2.3" fill="#243e62"/>
<polyline points="308.8,215.8 309.8,215.8 309.8,216.3 311.7,216.3 311.7,216.8 313.6,216.8 313.6,217.2 315.5,217.2 315.5,217.7 316.5,217.7 317.5,217.7 317.5,218.0 319.4,218.0 319.4,218.3 321.4,218.3 321.4,218.6 323.3,218.6 323.3,218.9 325.2,218.9 325.2,219.2 326.2,219.2 327.1,219.2 327.1,219.7 329.1,219.7 329.1,220.2 330.9,220.2 330.9,220.7 332.9,220.7 332.9,221.2 333.8,221.2 334.8,221.2 334.8,222.3 336.7,222.3 336.7,223.3 338.6,223.3 338.6,224.4 339.6,224.4 340.6,224.4 340.6,225.4 342.5,225.4 342.5,226.4 344.4,226.4 344.4,227.3 346.3,227.3 346.3,228.3 347.3,228.3 348.3,228.3 348.3,229.4 350.2,229.4 350.2,230.4 352.1,230.4 352.1,231.5 353.1,231.5 354.1,231.5 354.1,232.0 356.0,232.0 356.0,232.5 357.9,232.5 357.9,233.0 359.8,233.0 359.8,233.5 361.7,233.5 361.7,234.0 362.7,234.0 363.7,234.0 363.7,234.8 365.6,234.8 365.6,235.6 367.5,235.6 367.5,236.3 369.4,236.3 369.4,237.1 371.3,237.1 371.3,237.9 372.3,237.9 373.3,237.9 373.3,238.5 375.2,238.5 375.2,239.2 377.1,239.2 377.1,239.8 378.1,239.8 379.1,239.8 379.1,240.1 381.0,240.1 381.0,240.3 382.9,240.3 382.9,240.6 384.8,240.6 384.8,240.8 385.8,240.8 386.8,240.8 386.8,241.5 388.7,241.5 388.7,242.2 390.6,242.2 390.6,242.8 392.5,242.8 392.5,243.5 394.4,243.5 394.4,244.2 395.4,244.2 396.2,244.2 396.2,244.9 397.7,244.9 397.7,245.6 399.2,245.6 399.2,246.3 400.0,246.3 401.0,246.3 401.0,247.3 402.9,247.3 402.9,248.3 404.8,248.3 404.8,249.2 406.7,249.2 406.7,250.2 408.6,250.2 408.6,251.2 409.6,251.2 410.6,251.2 410.6,252.0 412.5,252.0 412.5,252.7 414.4,252.7 414.4,253.5 416.3,253.5 416.3,254.2 418.2,254.2 418.2,255.0 419.2,255.0 420.2,255.0 420.2,256.0 422.1,256.0 422.1,256.9 424.0,256.9 424.0,257.9 425.9,257.9 425.9,258.8 427.8,258.8 427.8,259.8 428.8,259.8 429.7,259.8 429.7,260.8 431.4,260.8 431.4,261.8 433.1,261.8 433.1,262.7 434.8,262.7 434.8,263.7 435.6,263.7 436.7,263.7 436.7,264.0 438.9,264.0 438.9,264.3 440.0,264.3 440.8,264.3 440.8,264.5 442.4,264.5 442.4,264.7 443.9,264.7 443.9,264.9 445.5,264.9 445.5,265.1 446.3,265.1 447.1,265.1 447.1,265.5 448.7,265.5 448.7,265.9 450.2,265.9 450.2,266.3 451.8,266.3 451.8,266.7 452.6,266.7 453.6,266.7 453.6,267.4 455.7,267.4 455.7,268.2 456.7,268.2 457.5,268.2 457.5,269.0 459.1,269.0 459.1,269.8 459.9,269.8 460.7,269.8 460.7,270.4 462.2,270.4 462.2,270.9 463.0,270.9 464.3,270.9 464.3,273.5 465.6,273.5 466.9,273.5 466.9,275.6 468.2,275.6 468.5,275.6 468.5,277.0 468.8,277.0 469.8,277.0 469.8,277.0 471.7,277.0 471.7,277.0 473.6,277.0 473.6,277.1 475.6,277.1 475.6,277.1 477.5,277.1 477.5,277.1 478.5,277.1" fill="none" stroke="#b5203f" stroke-width="1.0" stroke-linejoin="round"/>
<rect x="317.30" y="216.78" width="1.4" height="2.3" fill="#8e1c38"/>
<rect x="327.30" y="218.52" width="1.4" height="2.3" fill="#8e1c38"/>
<rect x="349.30" y="228.64" width="1.4" height="2.3" fill="#8e1c38"/>
<rect x="369.30" y="235.82" width="1.4" height="2.3" fill="#8e1c38"/>
<rect x="394.30" y="242.91" width="1.4" height="2.3" fill="#8e1c38"/>
<rect x="419.30" y="254.25" width="1.4" height="2.3" fill="#8e1c38"/>
<rect x="429.30" y="259.34" width="1.4" height="2.3" fill="#8e1c38"/>
<rect x="435.30" y="262.60" width="1.4" height="2.3" fill="#8e1c38"/>
<rect x="439.30" y="263.15" width="1.4" height="2.3" fill="#8e1c38"/>
<rect x="442.30" y="263.53" width="1.4" height="2.3" fill="#8e1c38"/>
<rect x="445.30" y="263.91" width="1.4" height="2.3" fill="#8e1c38"/>
<rect x="448.30" y="264.64" width="1.4" height="2.3" fill="#8e1c38"/>
<rect x="451.30" y="265.40" width="1.4" height="2.3" fill="#8e1c38"/>
<rect x="454.30" y="266.43" width="1.4" height="2.3" fill="#8e1c38"/>
<rect x="457.30" y="267.70" width="1.4" height="2.3" fill="#8e1c38"/>
<rect x="460.30" y="269.04" width="1.4" height="2.3" fill="#8e1c38"/>
<rect x="463.30" y="270.75" width="1.4" height="2.3" fill="#8e1c38"/>
<rect x="466.30" y="273.48" width="1.4" height="2.3" fill="#8e1c38"/>
<rect x="469.30" y="275.86" width="1.4" height="2.3" fill="#8e1c38"/>
<rect x="472.30" y="275.89" width="1.4" height="2.3" fill="#8e1c38"/>
<rect x="475.30" y="275.92" width="1.4" height="2.3" fill="#8e1c38"/>
<rect x="477.30" y="275.94" width="1.4" height="2.3" fill="#8e1c38"/>
<line x1="6.4" y1="362.5" x2="22" y2="362.5" stroke="#30598a" stroke-width="1.2"/>
<text x="43.40" y="360.80" font-size="6.5" text-anchor="end" fill="#3d6ea3" font-weight="normal" stroke="#3d6ea3" stroke-width="0.18">G-Clb</text>
<line x1="45.9" y1="356.20" x2="45.9" y2="361.50" stroke="#3d6ea3" stroke-width="0.8"/>
<text x="46.50" y="368.20" font-size="6.2" text-anchor="end" fill="#3d6ea3" font-weight="normal" stroke="#3d6ea3" stroke-width="0.18">uIGHV</text>
<line x1="6.4" y1="380.3" x2="22" y2="380.3" stroke="#2a3850" stroke-width="1.3" stroke-dasharray="1.5,1.77"/>
<text x="43.40" y="378.60" font-size="6.5" text-anchor="end" fill="#3d6ea3" font-weight="normal" stroke="#3d6ea3" stroke-width="0.18">G-Clb</text>
<line x1="45.9" y1="374.00" x2="45.9" y2="379.30" stroke="#3d6ea3" stroke-width="0.8"/>
<text x="46.50" y="386.00" font-size="6.2" text-anchor="end" fill="#3d6ea3" font-weight="normal" stroke="#3d6ea3" stroke-width="0.18">mIGHV</text>
<line x1="6.4" y1="398.0" x2="22" y2="398.0" stroke="#a8284e" stroke-width="2.0"/>
<text x="43.40" y="396.30" font-size="6.5" text-anchor="end" fill="#c8304a" font-weight="normal" stroke="#c8304a" stroke-width="0.18">R-Clb</text>
<line x1="45.9" y1="391.70" x2="45.9" y2="397.00" stroke="#c8304a" stroke-width="0.8"/>
<text x="46.50" y="403.70" font-size="6.2" text-anchor="end" fill="#c8304a" font-weight="normal" stroke="#c8304a" stroke-width="0.18">uIGHV</text>
<line x1="6.4" y1="415.7" x2="22" y2="415.7" stroke="#7a3a50" stroke-width="1.9" stroke-dasharray="1.8,1.47"/>
<text x="43.40" y="414.00" font-size="6.5" text-anchor="end" fill="#c8304a" font-weight="normal" stroke="#c8304a" stroke-width="0.18">R-Clb</text>
<line x1="45.9" y1="409.40" x2="45.9" y2="414.70" stroke="#c8304a" stroke-width="0.8"/>
<text x="46.50" y="421.40" font-size="6.2" text-anchor="end" fill="#c8304a" font-weight="normal" stroke="#c8304a" stroke-width="0.18">mIGHV</text>
</svg>
<div class="frame"></div>
</body></html>
